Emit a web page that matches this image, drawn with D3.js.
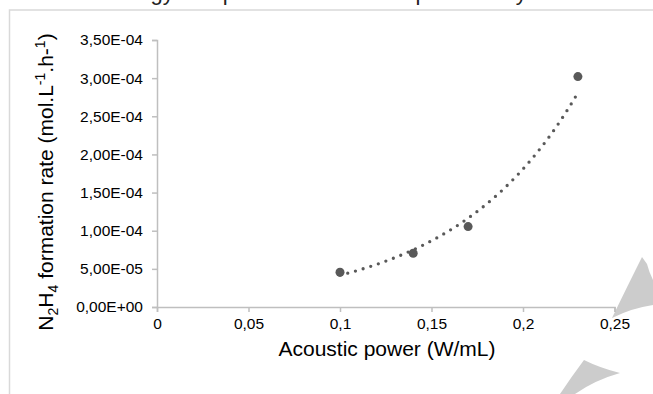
<!DOCTYPE html>
<html>
<head>
<meta charset="UTF-8">
<title>N2H4 formation rate</title>
<script src="https://cdnjs.cloudflare.com/ajax/libs/d3/7.8.5/d3.min.js"></script>
<style>
  body { margin: 0; background: #fff; }
  svg { display: block; font-family: "Liberation Sans", Arial, sans-serif; }
</style>
</head>
<body>
<svg id="chart" width="653" height="394"></svg>
<script>
// measured points
var powers = [0.1, 0.14, 0.17, 0.23];          // W/mL
var rates = [4.55e-5, 7.05e-5, 1.054e-4, 3.02e-4]; // mol.L-1.h-1
var xTicks = [0, 0.05, 0.1, 0.15, 0.2, 0.25];
var yTicks = [0, 5e-5, 1e-4, 1.5e-4, 2e-4, 2.5e-4, 3e-4, 3.5e-4];

var svg = d3.select("#chart");
var grey = "#595959", axisGrey = "#bfbfbf";

// chart frame (cut by the picture on right and bottom)
svg.append("rect")
    .attr("x", 9.5).attr("y", 10).attr("width", 700).attr("height", 420)
    .attr("fill", "#fff").attr("stroke", "#d9d9d9").attr("stroke-width", 1.5);

// title cut off at the top of the picture, only descenders show
svg.append("text")
    .attr("x", 104).attr("y", 0)
    .attr("font-size", 22).attr("fill", "#222")
    .text("Energy and power effect on the productivity");

// watermark shapes
svg.append("path")
    .attr("d", "M642,257 L647,264 Q649,272 653,280 L653,305 Q632,308 612,318 Q628,285 642,257 Z")
    .attr("fill", "#cccccc");
svg.append("path")
    .attr("d", "M584,360 Q600,368 620,373 Q595,380 575,394 L560,394 Q572,376 584,360 Z")
    .attr("fill", "#cccccc");

var x = d3.scaleLinear().domain([0, 0.25]).range([157, 614.5]);
var y = d3.scaleLinear().domain([0, 3.5e-4]).range([307, 40]);

function fmtY(v) {
    var s = v.toExponential(2).split("e");
    var e = parseInt(s[1], 10);
    var ex = (e < 0 ? "-" : "+") + (Math.abs(e) < 10 ? "0" : "") + Math.abs(e);
    return s[0].replace(".", ",") + "E" + ex;
}
function fmtX(v) { return String(+v.toFixed(2)).replace(".", ","); }

var yAxis = svg.append("g")
    .attr("transform", "translate(" + x(0) + ",0)")
    .call(d3.axisLeft(y).tickValues(yTicks).tickSize(5).tickPadding(9).tickFormat(fmtY));
var xAxis = svg.append("g")
    .attr("transform", "translate(0," + y(0) + ")")
    .call(d3.axisBottom(x).tickValues(xTicks).tickSize(5).tickPadding(6).tickFormat(fmtX));

[xAxis, yAxis].forEach(function (g) {
    g.selectAll("path, line").attr("stroke", axisGrey).attr("stroke-width", 1.5);
    g.selectAll("text").attr("font-size", 15.5).attr("fill", "#000")
        .attr("font-family", "Liberation Sans, Arial, sans-serif");
});

// exponential trendline (least squares on ln y, as the spreadsheet does)
var lx = d3.mean(powers), ly = d3.mean(rates, function (r) { return Math.log(r); });
var sxy = d3.sum(powers, function (p, i) { return (p - lx) * (Math.log(rates[i]) - ly); });
var sxx = d3.sum(powers, function (p) { return (p - lx) * (p - lx); });
var b = sxy / sxx, a = Math.exp(ly - b * lx);
var xs = d3.range(0, 101).map(function (i) {
    return d3.min(powers) + (d3.max(powers) - d3.min(powers)) * i / 100;
});
svg.append("path")
    .datum(xs)
    .attr("fill", "none")
    .attr("stroke", grey)
    .attr("stroke-width", 3.3)
    .attr("stroke-linecap", "round")
    .attr("stroke-dasharray", "0 8")
    .attr("d", d3.line().x(function (d) { return x(d); })
        .y(function (d) { return y(a * Math.exp(b * d)); }));

svg.selectAll("circle.pt")
    .data(powers)
    .enter().append("circle")
    .attr("class", "pt")
    .attr("cx", function (d) { return x(d); })
    .attr("cy", function (d, i) { return y(rates[i]); })
    .attr("r", 4.5)
    .attr("fill", grey);

// axis titles
svg.append("text")
    .attr("x", 387).attr("y", 355.5)
    .attr("text-anchor", "middle").attr("font-size", 21)
    .text("Acoustic power (W/mL)");

var yt = svg.append("text")
    .attr("transform", "translate(52.5,182) rotate(-90)")
    .attr("text-anchor", "middle").attr("font-size", 21);
yt.append("tspan").text("N");
yt.append("tspan").attr("font-size", 14).attr("dy", 5).text("2");
yt.append("tspan").attr("dy", -5).text("H");
yt.append("tspan").attr("font-size", 14).attr("dy", 5).text("4");
yt.append("tspan").attr("dy", -5).text(" formation rate (mol.L");
yt.append("tspan").attr("font-size", 14).attr("dy", -8).text("-1");
yt.append("tspan").attr("dy", 8).text(".h-");
yt.append("tspan").attr("font-size", 14).attr("dy", -8).text("1");
yt.append("tspan").attr("dy", 8).text(")");
</script>
</body>
</html>
